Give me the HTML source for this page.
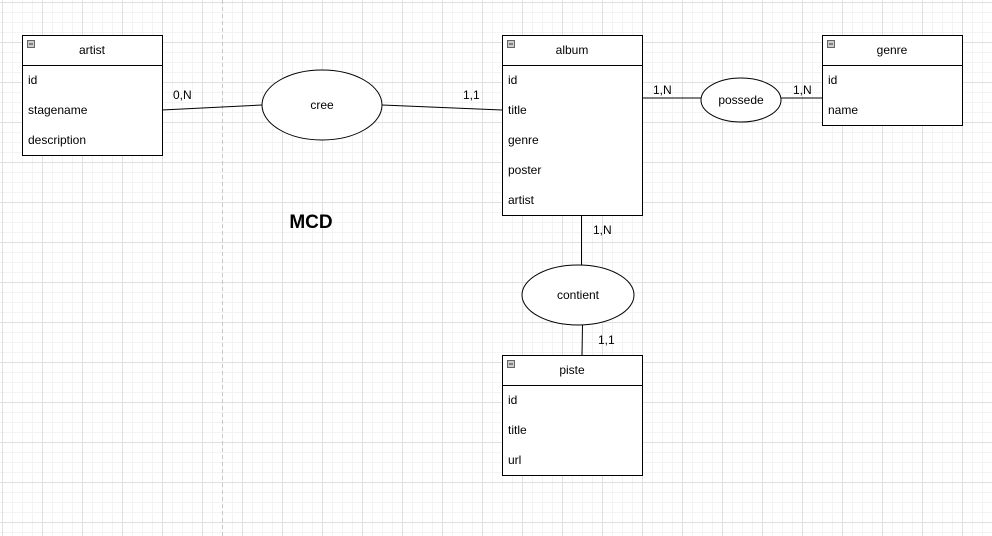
<!DOCTYPE html>
<html><head><style>
html,body{margin:0;padding:0;}
body{width:992px;height:536px;overflow:hidden;background:#fff;
background-image:
linear-gradient(to right,#e0e0e0 1px,transparent 1px),
linear-gradient(to bottom,#e0e0e0 1px,transparent 1px),
linear-gradient(to right,#f3f3f3 1px,transparent 1px),
linear-gradient(to bottom,#f3f3f3 1px,transparent 1px);
background-size:40px 40px,40px 40px,10px 10px,10px 10px;
background-position:2px 2px,2px 2px,2px 2px,2px 2px;
font-family:"Liberation Sans",Arial,sans-serif;}
</style></head><body>
<svg width="992" height="536" style="position:absolute;left:0;top:0" font-family="Liberation Sans, Arial, sans-serif" font-size="12" fill="#000">
<line x1="222.5" y1="0" x2="222.5" y2="536" stroke="#c8c8c8" stroke-dasharray="4,3"/>
<g stroke="#000" stroke-width="1" fill="#fff">
<line x1="162" y1="110" x2="262" y2="105"/>
<line x1="382" y1="105" x2="502" y2="110"/>
<line x1="642" y1="98" x2="701" y2="98"/>
<line x1="781" y1="98" x2="822" y2="98"/>
<line x1="581.5" y1="215" x2="581.5" y2="265"/>
<line x1="582.5" y1="325" x2="582" y2="355"/>
<ellipse cx="322" cy="105" rx="60" ry="35"/>
<ellipse cx="741" cy="100" rx="40" ry="22"/>
<ellipse cx="578" cy="295" rx="56" ry="30"/>
<rect x="22.5" y="35.5" width="140" height="120"/><line x1="22.5" y1="65.5" x2="162.5" y2="65.5"/>
<rect x="502.5" y="35.5" width="140" height="180"/><line x1="502.5" y1="65.5" x2="642.5" y2="65.5"/>
<rect x="822.5" y="35.5" width="140" height="90"/><line x1="822.5" y1="65.5" x2="962.5" y2="65.5"/>
<rect x="502.5" y="355.5" width="140" height="120"/><line x1="502.5" y1="385.5" x2="642.5" y2="385.5"/>
</g>
<g fill="#ccc" stroke="#666">
<rect x="27.5" y="40.5" width="7" height="7"/><rect x="507.5" y="40.5" width="7" height="7"/>
<rect x="827.5" y="40.5" width="7" height="7"/><rect x="507.5" y="360.5" width="7" height="7"/>
</g>
<g stroke="#333"><line x1="29" y1="44" x2="33" y2="44"/><line x1="509" y1="44" x2="513" y2="44"/><line x1="829" y1="44" x2="833" y2="44"/><line x1="509" y1="364" x2="513" y2="364"/></g>
<g text-anchor="middle">
<text x="92" y="54">artist</text><text x="572" y="54">album</text><text x="892" y="54">genre</text><text x="572" y="374">piste</text>
<text x="322" y="109">cree</text><text x="741" y="104">possede</text><text x="578" y="299">contient</text>
</g>
<text x="28" y="84">id</text><text x="28" y="114">stagename</text><text x="28" y="144">description</text>
<text x="508" y="84">id</text><text x="508" y="114">title</text><text x="508" y="144">genre</text><text x="508" y="174">poster</text><text x="508" y="204">artist</text>
<text x="828" y="84">id</text><text x="828" y="114">name</text>
<text x="508" y="404">id</text><text x="508" y="434">title</text><text x="508" y="464">url</text>
<text x="173" y="99">0,N</text><text x="463" y="99">1,1</text><text x="653" y="94">1,N</text><text x="793" y="94">1,N</text>
<text x="593" y="234">1,N</text><text x="598" y="344">1,1</text>
<text x="311" y="228" text-anchor="middle" font-size="19" font-weight="bold">MCD</text>
</svg>
</body></html>
